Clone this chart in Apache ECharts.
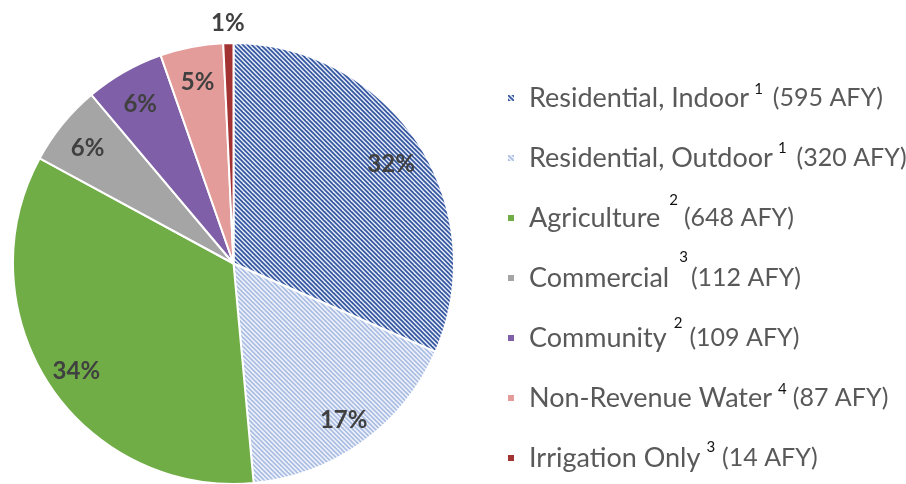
<!DOCTYPE html>
<html>
<head>
<meta charset="utf-8">
<script src="https://cdn.jsdelivr.net/npm/echarts@6/dist/echarts.min.js"></script>
<style>
html,body{margin:0;padding:0;background:#fff;}
#chart{width:906px;height:484px;}
</style>
</head>
<body>
<div id="chart"></div>
<script>
// ---- data ----
var categories = ['Residential, Indoor', 'Residential, Outdoor', 'Agriculture', 'Commercial', 'Community', 'Non-Revenue Water', 'Irrigation Only'];
var values = [595, 320, 648, 112, 109, 87, 14];
var footnotes = ['1', '1', '2', '3', '2', '4', '3'];
var unitLabel = 'AFY';

// ---- styles ----
function hatch(fg, bg) {
  var n = 9;
  var c = document.createElement('canvas');
  c.width = n; c.height = n;
  var ctx = c.getContext('2d');
  ctx.fillStyle = bg; ctx.fillRect(0, 0, n, n);
  ctx.strokeStyle = fg; ctx.lineWidth = 1.7;
  for (var k = -n; k <= n; k += n / 2) {
    ctx.beginPath(); ctx.moveTo(k - 1, -1); ctx.lineTo(k + n + 1, n + 1); ctx.stroke();
  }
  return { image: c, repeat: 'repeat' };
}
var colors = [
  hatch('#34559f', '#e6ecf7'),
  hatch('#aabde3', '#f1f4fb'),
  '#70ad47', '#a5a5a5', '#7f5fa7', '#e39c9a', '#a33232'
];
// superscript placement: vertical lift, left gap, right gap (px)
var supLift = [9, 10, 18, 21, 15, 9, 11];
var supPadL = [5, 5, 9, 10, 7, 6, 6];
var supPadR = [10, 10, 6, 3, 7, 6, 7];
var LH = 60;
var T_SIZE = 27, S_SIZE = 15;

var rich = {
  gap: { width: 9, fontSize: T_SIZE, lineHeight: LH },
  t: { fontFamily: 'Lato', fontSize: T_SIZE, color: '#595959', lineHeight: LH, verticalAlign: 'top', padding: [LH / 2 - T_SIZE / 2, 0, 0, 0] },
  v: { fontFamily: 'Lato', fontSize: 25, color: '#595959', lineHeight: LH, verticalAlign: 'top', padding: [LH / 2 - 12.5, 0, 0, 0] }
};
supLift.forEach(function (l, i) {
  rich['s' + i] = {
    fontFamily: 'Lato', fontSize: S_SIZE, color: '#111', lineHeight: LH, verticalAlign: 'top',
    padding: [LH / 2 - S_SIZE / 2 - l, supPadR[i], 0, supPadL[i]]
  };
});

var dataMain = categories.map(function (c, i) {
  return { name: c, value: values[i], itemStyle: { color: colors[i] } };
});
var dataLabels = categories.map(function (c, i) {
  return { name: c, value: values[i], label: { show: i !== categories.length - 1 } };
});
var dataOuter = categories.map(function (c, i) {
  return { name: c, value: values[i], label: { show: i === categories.length - 1 } };
});

var center = [233.5, 263.5];
var R = 220.5;
var labelStyle = {
  position: 'inside',
  offset: [0, 4],
  formatter: function (p) { return Math.round(p.percent) + '%'; },
  fontFamily: 'Lato', fontWeight: 'bold', fontSize: 24, color: '#404040'
};
var ghost = { color: 'rgba(0,0,0,0)', borderWidth: 0 };

var chart = echarts.init(document.getElementById('chart'), null, { renderer: 'canvas' });
chart.setOption({
  animation: false,
  legend: {
    data: categories,
    orient: 'vertical',
    left: 506,
    top: 98 - LH / 2,
    height: 480,
    padding: 0,
    itemWidth: 8,
    itemHeight: 8,
    itemGap: 60 - LH,
    icon: 'rect',
    selectedMode: false,
    textStyle: { rich: rich, fontFamily: 'Lato', fontSize: T_SIZE, color: '#595959', lineHeight: LH },
    formatter: function (name) {
      var i = categories.indexOf(name);
      return '{gap| }{t|' + name + '}{s' + i + '|' + footnotes[i] + '}{v|(' + values[i] + ' ' + unitLabel + ')}';
    }
  },
  series: [
    {
      type: 'pie', center: center, radius: [0, R], startAngle: 90, clockwise: true,
      data: dataMain, label: { show: false }, labelLine: { show: false },
      itemStyle: { borderColor: '#ffffff', borderWidth: 2 },
      emphasis: { disabled: true }, silent: true
    },
    {
      type: 'pie', center: center, radius: [150, R], startAngle: 90, clockwise: true,
      data: dataLabels, itemStyle: ghost, label: labelStyle, labelLine: { show: false },
      emphasis: { disabled: true }, silent: true
    },
    {
      type: 'pie', center: center, radius: [R, 262], startAngle: 90, clockwise: true,
      data: dataOuter, itemStyle: ghost, label: labelStyle, labelLine: { show: false },
      emphasis: { disabled: true }, silent: true
    }
  ]
});
</script>
</body>
</html>
